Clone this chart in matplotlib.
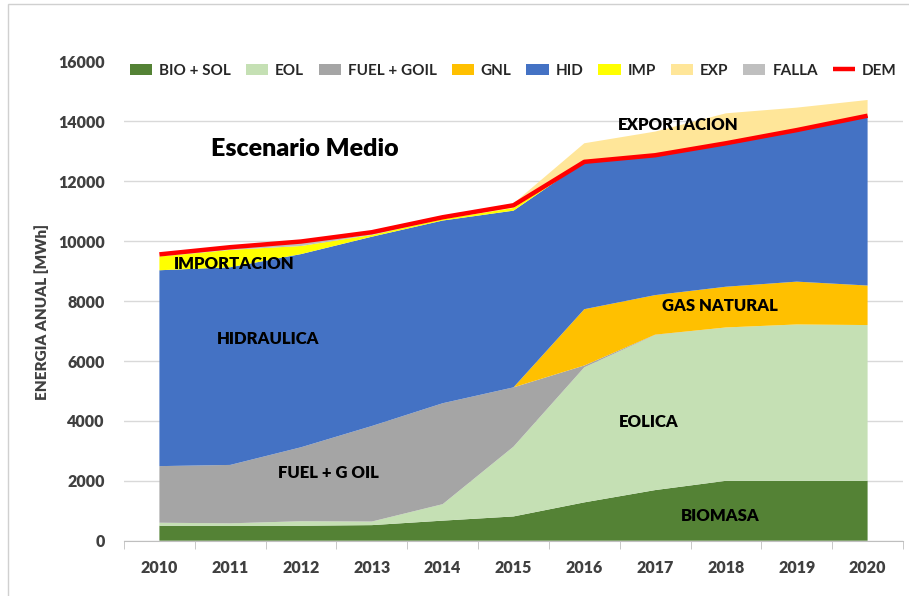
import matplotlib
matplotlib.use("Agg")
import matplotlib.pyplot as plt
from matplotlib.patches import Rectangle
import numpy as np

plt.rcParams["font.family"] = ["Lato", "DejaVu Sans"]

years = ["2010", "2011", "2012", "2013", "2014", "2015", "2016", "2017", "2018", "2019", "2020"]

bio_sol = [500, 500, 500, 520, 670, 810, 1280, 1690, 2000, 2000, 2000]
eol = [100, 80, 150, 120, 550, 2330, 4510, 5180, 5120, 5220, 5200]
fuel_goil = [1890, 1950, 2470, 3190, 3370, 1980, 60, 10, 0, 0, 0]
gnl = [0, 0, 0, 0, 0, 0, 1880, 1320, 1360, 1430, 1320]
hid = [6540, 6600, 6450, 6320, 6100, 5900, 4920, 4670, 4790, 5060, 5670]
imp = [460, 580, 270, 60, 50, 90, 0, 0, 0, 0, 0]
exp_ = [0, 0, 0, 0, 0, 150, 620, 790, 1000, 750, 525]
falla = [0, 50, 100, 60, 30, 0, 0, 0, 0, 0, 0]
dem = [9560, 9800, 9990, 10300, 10800, 11200, 12650, 12870, 13270, 13710, 14190]

series_labels = ["BIO + SOL", "EOL", "FUEL + GOIL", "GNL", "HID", "IMP", "EXP", "FALLA"]
series_colors = ["#548235", "#c5e0b4", "#a5a5a5", "#ffc000", "#4472c4", "#ffff00", "#ffe699", "#bfbfbf"]

W, H = 909, 596
BOLD = "heavy"
fig = plt.figure(figsize=(W / 100, H / 100), dpi=100)
ax = fig.add_axes([124 / W, 1 - 540.7 / H, (903 - 124) / W, (540.7 - 61.5) / H])

x = np.arange(len(years))
polys = ax.stackplot(x, bio_sol, eol, fuel_goil, gnl, hid, imp, exp_, falla,
                     colors=series_colors, labels=series_labels, linewidth=0)
line, = ax.plot(x, dem, color="#ff0000", lw=3.2, label="DEM", solid_capstyle="butt")

ax.set_xlim(-0.5, len(years) - 0.5)
ax.set_ylim(0, 16000)
ax.set_yticks(np.arange(0, 16001, 2000))
ax.set_xticks(x)
ax.set_xticklabels(years)
ax.set_xticks(np.arange(-0.5, len(years), 1.0), minor=True)
ax.tick_params(axis="x", which="major", length=0, pad=14)
ax.tick_params(axis="x", which="minor", length=6, color="#bfbfbf", direction="out")
ax.tick_params(axis="y", length=0, pad=14)
for lab in ax.get_xticklabels() + ax.get_yticklabels():
    lab.set_fontsize(11.5)
    lab.set_fontweight(BOLD)
    lab.set_color("#404040")

ax.grid(axis="y", color="#d9d9d9", lw=1)
ax.set_axisbelow(True)
for s in ["top", "right", "left"]:
    ax.spines[s].set_visible(False)
ax.spines["bottom"].set_color("#bfbfbf")

fig.text(42 / W, 1 - 312 / H, "ENERGIA ANUAL [MWh]", rotation=90, ha="center", va="center",
         fontsize=11, fontweight=BOLD, color="#404040")

leg = ax.legend(handles=list(polys) + [line], loc="upper left", bbox_to_anchor=(0.0, 1.008),
                ncol=9, frameon=True, fontsize=11, handlelength=1.45, handleheight=0.8,
                handletextpad=0.45, columnspacing=0.98, borderaxespad=0, borderpad=0.4)
leg.get_frame().set_facecolor("white")
leg.get_frame().set_edgecolor("none")
leg.get_frame().set_alpha(1)
for t in leg.get_texts():
    t.set_color("#262626")
    t.set_fontweight("bold")

ax.text(2.06, 13080, "Escenario Medio", fontsize=18, fontweight=BOLD, ha="center", va="center")
notes = [
    (1.05, 9240, "IMPORTACION"),
    (1.53, 6740, "HIDRAULICA"),
    (2.39, 2270, "FUEL + G OIL"),
    (7.32, 13890, "EXPORTACION"),
    (7.92, 7830, "GAS NATURAL"),
    (6.91, 3960, "EOLICA"),
    (7.92, 830, "BIOMASA"),
]
for nx, ny, txt in notes:
    ax.text(nx, ny, txt, fontsize=12, fontweight=BOLD, ha="center", va="center", color="black")

fig.patches.append(Rectangle((8 / W, -0.1), 1.2, 1.1 - 4 / H, transform=fig.transFigure,
                             fill=False, edgecolor="#d0d0d0", lw=1, zorder=0))

fig.savefig("out.png", dpi=100)
plt.close(fig)
